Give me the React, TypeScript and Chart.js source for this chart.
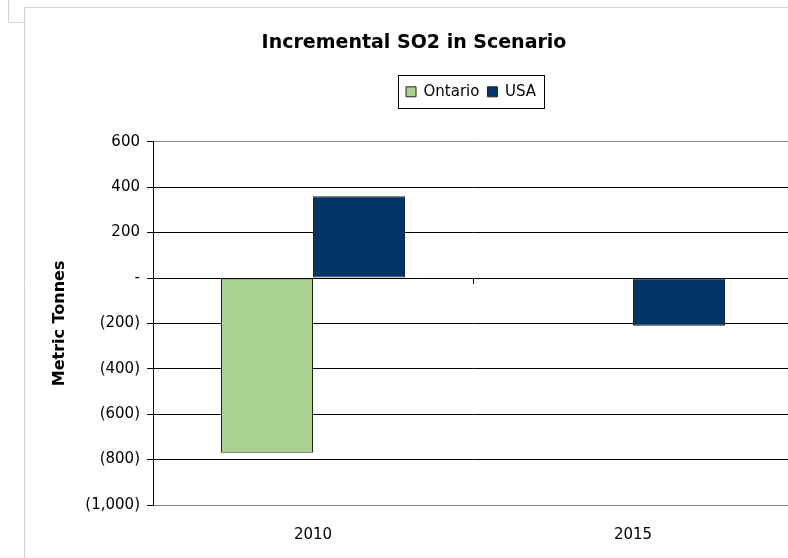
import React, { useEffect, useRef } from "react";
import { Chart, registerables } from "chart.js";

Chart.register(...registerables);

// ---- data ----
const categories = ["2010", "2015"];
const seriesNames = ["Ontario", "USA"];
const ontarioValues: (number | null)[] = [-770, null];
const usaValues: (number | null)[] = [360, -210];
const yTickValues = [600, 400, 200, 0, -200, -400, -600, -800, -1000];
const chartTitle = "Incremental SO2 in Scenario";
const yAxisTitle = "Metric Tonnes";

const CANVAS_W = 820;
const CANVAS_H = 558;
const FONT = "'DejaVu Sans', sans-serif";

function formatTick(v: number): string {
  if (v === 0) return "-";
  const s = Math.abs(v).toLocaleString("en-US");
  return v < 0 ? `(${s})` : s;
}

const decorPlugin = {
  id: "decor",
  afterLayout(chart: any) {
    const lg = chart.legend;
    if (lg) {
      lg.left += 57;
      lg.right += 57;
      lg.top -= 32.5;
      lg.bottom -= 32.5;
    }
  },
  beforeDraw(chart: any) {
    const ctx = chart.ctx;
    ctx.save();
    ctx.strokeStyle = "#d4d4d4";
    ctx.lineWidth = 1;
    ctx.beginPath();
    ctx.moveTo(8.5, 0);
    ctx.lineTo(8.5, 22.5);
    ctx.lineTo(24, 22.5);
    ctx.moveTo(24.5, 7);
    ctx.lineTo(24.5, CANVAS_H);
    ctx.moveTo(24, 7.5);
    ctx.lineTo(CANVAS_W, 7.5);
    ctx.stroke();
    ctx.restore();
  },
  afterDraw(chart: any) {
    const ctx = chart.ctx;
    const lg = chart.legend;
    ctx.save();
    if (lg && lg.legendHitBoxes && lg.legendHitBoxes.length) {
      const hb = lg.legendHitBoxes;
      const first = hb[0];
      const last = hb[hb.length - 1];
      const cy = first.top + first.height / 2;
      const l = Math.round(first.left - 8) + 0.5;
      const r = Math.round(last.left + last.width + 8) + 0.5;
      const t = Math.round(cy - 17) + 0.5;
      const b = Math.round(cy + 16) + 0.5;
      ctx.strokeStyle = "#000";
      ctx.lineWidth = 1;
      ctx.strokeRect(l, t, r - l, b - t);
    }
    // category boundary tick on the zero axis
    const xs = chart.scales.x;
    const ys = chart.scales.y;
    const y0 = Math.round(ys.getPixelForValue(0));
    ctx.strokeStyle = "#000";
    ctx.lineWidth = 1;
    for (let i = 0; i < categories.length - 1; i++) {
      const xm = Math.round((xs.getPixelForValue(i) + xs.getPixelForValue(i + 1)) / 2) + 0.5;
      ctx.beginPath();
      ctx.moveTo(xm, y0);
      ctx.lineTo(xm, y0 + 6);
      ctx.stroke();
    }
    ctx.restore();
  },
};

export default function App() {
  const ref = useRef<HTMLCanvasElement | null>(null);

  useEffect(() => {
    if (!ref.current) return;
    const chart = new Chart(ref.current, {
      type: "bar",
      data: {
        labels: categories,
        datasets: [
          {
            label: seriesNames[0],
            data: ontarioValues,
            backgroundColor: "#a9d18e",
            borderColor: "#222222",
            borderWidth: 1,
            borderSkipped: false,
          },
          {
            label: seriesNames[1],
            data: usaValues,
            backgroundColor: "#003366",
            borderColor: "#222222",
            borderWidth: 1,
            borderSkipped: false,
          },
        ],
      },
      options: {
        responsive: false,
        animation: false,
        devicePixelRatio: 1,
        datasets: { bar: { categoryPercentage: 0.575, barPercentage: 1 } },
        layout: { padding: { left: 35, top: 7, right: CANVAS_W - 793, bottom: 0 } },
        plugins: {
          title: {
            display: true,
            text: chartTitle,
            color: "#000",
            font: { family: FONT, size: 19, weight: "bold" },
            padding: { top: 25, bottom: 54 },
          },
          legend: {
            display: true,
            position: "top",
            labels: {
              color: "#000",
              font: { family: FONT, size: 15 },
              boxWidth: 10,
              boxHeight: 10,
              padding: 8,
            },
          },
          tooltip: { enabled: false },
        },
        scales: {
          x: {
            grid: { display: false },
            border: { display: true, color: "#808080", width: 1 },
            ticks: {
              color: "#000",
              font: { family: FONT, size: 15 },
              padding: 13,
              maxRotation: 0,
            },
            afterFit: (s: any) => {
              s.height = 53;
            },
          },
          y: {
            min: -1000,
            max: 600,
            afterBuildTicks: (s: any) => {
              s.ticks = yTickValues.map((v) => ({ value: v }));
            },
            afterFit: (s: any) => {
              s.width = 153 - 35;
            },
            grid: {
              color: (c: any) =>
                c.tick && (c.tick.value === 600 || c.tick.value === -1000) ? "#8c8c8c" : "#000",
              tickColor: "#000",
              tickLength: 6,
              lineWidth: 1,
            },
            border: { display: true, color: "#000", width: 1 },
            ticks: {
              color: "#000",
              font: { family: FONT, size: 15 },
              padding: 7,
              callback: (v: any) => formatTick(Number(v)),
            },
            title: {
              display: true,
              text: yAxisTitle,
              color: "#000",
              font: { family: FONT, size: 16, weight: "bold" },
              padding: { top: 15, bottom: 0 },
            },
          },
        },
      },
      plugins: [decorPlugin],
    });
    return () => chart.destroy();
  }, []);

  return (
    <div
      style={{
        position: "fixed",
        left: 0,
        top: 0,
        width: 788,
        height: 558,
        overflow: "hidden",
        background: "#fff",
      }}
    >
      <canvas ref={ref} width={CANVAS_W} height={CANVAS_H} style={{ display: "block" }} />
    </div>
  );
}
